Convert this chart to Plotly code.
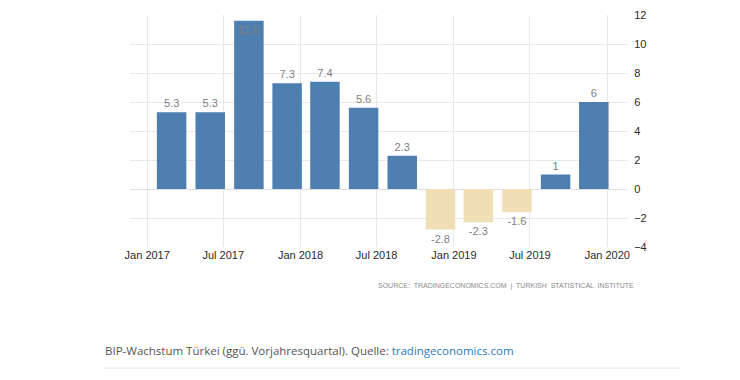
import plotly.graph_objects as go

quarters = ["2017-02-28", "2017-05-31", "2017-08-31", "2017-11-30",
            "2018-02-28", "2018-05-31", "2018-08-31", "2018-11-30",
            "2019-02-28", "2019-05-31", "2019-08-31", "2019-11-30"]
growth = [5.3, 5.3, 11.6, 7.3, 7.4, 5.6, 2.3, -2.8, -2.3, -1.6, 1, 6]
tick_dates = ["2017-01-01", "2017-07-01", "2018-01-01", "2018-07-01",
              "2019-01-01", "2019-07-01", "2020-01-01"]
tick_labels = ["Jan 2017", "Jul 2017", "Jan 2018", "Jul 2018",
               "Jan 2019", "Jul 2019", "Jan 2020"]
y_ticks = [-4, -2, 0, 2, 4, 6, 8, 10, 12]

BLUE = "#4f7fb1"
BEIGE = "#f0dfb5"
colors = [BLUE if v >= 0 else BEIGE for v in growth]
labels = [f"{v:g}" for v in growth]
positions = ["inside" if v > 11 else "outside" for v in growth]

fig = go.Figure(go.Bar(
    x=quarters, y=growth, marker=dict(color=colors, line=dict(width=0)),
    text=labels, textposition=positions, insidetextanchor="end",
    textfont=dict(color="#7f7f7f", size=11, family="Liberation Sans"),
    cliponaxis=False, hoverinfo="skip",
))

fig.update_layout(
    width=740, height=380,
    margin=dict(l=122, r=121, t=7, b=141, autoexpand=False),
    paper_bgcolor="white", plot_bgcolor="white",
    bargap=0.22, showlegend=False,
    font=dict(family="Liberation Sans", color="#333333", size=11),
    xaxis=dict(type="date", range=["2016-11-21", "2020-02-17"],
               tickvals=tick_dates, ticktext=tick_labels, automargin=False,
               showgrid=True, gridcolor="#e8e8e8", gridwidth=1,
               showline=False, zeroline=False, ticks="",
               tickfont=dict(size=11, color="#2a2a2a")),
    yaxis=dict(side="right", range=[-4, 12], tickvals=y_ticks, automargin=False,
               ticklabeloverflow="allow",
               showgrid=True, gridcolor="#e8e8e8", gridwidth=1,
               zeroline=True, zerolinecolor="#e0e0e0", zerolinewidth=1,
               showline=False, ticks="outside", ticklen=4, tickcolor="white",
               tickfont=dict(size=11, color="#2a2a2a")),
)

fig.add_annotation(
    text="SOURCE:  TRADINGECONOMICS.COM  |  TURKISH  STATISTICAL  INSTITUTE",
    xref="paper", yref="paper", x=1.018, y=-0.168, xanchor="right", yanchor="middle",
    showarrow=False, font=dict(size=7, color="#8a8a8a", family="Liberation Sans"))

fig.add_annotation(
    text="BIP-Wachstum Türkei (ggü. Vorjahresquartal). Quelle: "
         "<span style='color:#2a7ab8'>tradingeconomics.com</span>",
    xref="paper", yref="paper", x=-0.054, y=-0.444, xanchor="left", yanchor="middle",
    showarrow=False, font=dict(size=11.5, color="#555555", family="Open Sans"))

fig.add_shape(type="line", xref="paper", yref="paper",
              x0=-0.052, x1=1.107, y0=-0.5216, y1=-0.5216,
              line=dict(color="#e6e6e6", width=1))

fig.write_html("out.html")
